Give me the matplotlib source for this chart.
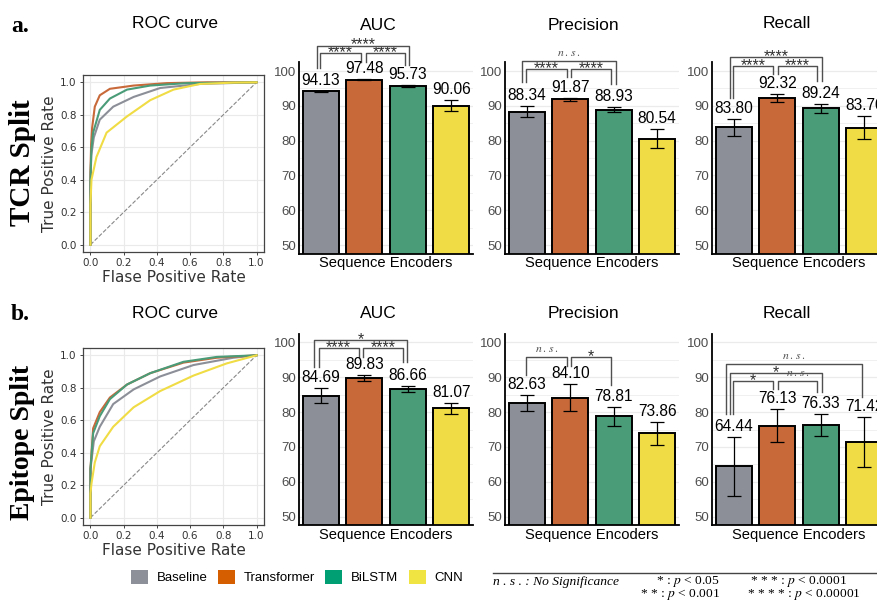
import numpy as np
import matplotlib.pyplot as plt
from matplotlib.patches import Patch
from matplotlib.lines import Line2D

plt.rcParams['mathtext.fontset'] = 'stix'
SANS = 'Liberation Sans'
SERIF = 'Liberation Serif'

# ---- data ----
models = ['Baseline', 'Transformer', 'BiLSTM', 'CNN']
bar_colors = ['#8C8F98', '#C8693A', '#4A9B78', '#F0DC44']
legend_colors = ['#8E9099', '#D55E00', '#009E73', '#F0E442']

# TCR split
tcr_auc = [94.13, 97.48, 95.73, 90.06]
tcr_auc_sd = [0.1, 0.2, 0.2, 1.5]
tcr_prec = [88.34, 91.87, 88.93, 80.54]
tcr_prec_sd = [1.5, 0.5, 0.7, 2.7]
tcr_rec = [83.80, 92.32, 89.24, 83.70]
tcr_rec_sd = [2.4, 1.2, 1.3, 3.3]

# Epitope split
epi_auc = [84.69, 89.83, 86.66, 81.07]
epi_auc_sd = [2.15, 0.9, 0.95, 1.6]
epi_prec = [82.63, 84.10, 78.81, 73.86]
epi_prec_sd = [2.25, 3.9, 2.7, 3.35]
epi_rec = [64.44, 76.13, 76.33, 71.42]
epi_rec_sd = [8.5, 4.7, 3.25, 7.3]

# ROC curves (fpr, tpr)
tcr_fpr_base = [0, 0, 0.005, 0.02, 0.056, 0.137, 0.26, 0.42, 0.66, 1.0]
tcr_tpr_base = [0, 0.4, 0.55, 0.66, 0.77, 0.85, 0.91, 0.965, 0.99, 1.0]
tcr_fpr_trans = [0, 0, 0.004, 0.01, 0.026, 0.056, 0.117, 0.26, 0.46, 0.7, 1.0]
tcr_tpr_trans = [0, 0.45, 0.62, 0.72, 0.85, 0.92, 0.96, 0.98, 0.995, 1.0, 1.0]
tcr_fpr_lstm = [0, 0, 0.005, 0.016, 0.056, 0.117, 0.22, 0.36, 0.58, 1.0]
tcr_tpr_lstm = [0, 0.4, 0.58, 0.69, 0.83, 0.90, 0.955, 0.98, 0.995, 1.0]
tcr_fpr_cnn = [0, 0, 0.006, 0.036, 0.097, 0.22, 0.36, 0.5, 0.66, 0.86, 1.0]
tcr_tpr_cnn = [0, 0.25, 0.40, 0.54, 0.69, 0.79, 0.89, 0.955, 0.99, 0.998, 1.0]

epi_fpr_base = [0, 0, 0.02, 0.056, 0.137, 0.26, 0.42, 0.62, 0.86, 1.0]
epi_tpr_base = [0, 0.3, 0.47, 0.56, 0.70, 0.79, 0.87, 0.94, 0.985, 1.0]
epi_fpr_trans = [0, 0, 0.016, 0.056, 0.117, 0.22, 0.36, 0.56, 0.76, 1.0]
epi_tpr_trans = [0, 0.3, 0.55, 0.65, 0.74, 0.82, 0.89, 0.955, 0.985, 1.0]
epi_fpr_lstm = [0, 0, 0.016, 0.056, 0.117, 0.22, 0.36, 0.56, 0.76, 1.0]
epi_tpr_lstm = [0, 0.3, 0.52, 0.625, 0.73, 0.82, 0.89, 0.96, 0.99, 1.0]
epi_fpr_cnn = [0, 0, 0.006, 0.026, 0.056, 0.137, 0.26, 0.42, 0.62, 0.82, 1.0]
epi_tpr_cnn = [0, 0.15, 0.21, 0.34, 0.44, 0.56, 0.68, 0.78, 0.875, 0.95, 1.0]

# significance brackets: (x1, x2, y, left tip, right tip, label)
tcr_auc_sig = [(-0.08, 2.04, 107.3, 100.9, 101.7, '****'),
               (-0.02, 0.92, 105.1, 100.9, 102.7, '****'),
               (1.03, 1.93, 105.1, 102.7, 101.7, '****')]
tcr_prec_sig = [(-0.11, 2.05, 102.95, 96.7, 96.3, 'n.s.'),
                (-0.02, 0.92, 100.6, 96.7, 98.4, '****'),
                (1.02, 1.94, 100.6, 98.3, 96.3, '****')]
tcr_rec_sig = [(-0.09, 2.04, 103.9, 92.3, 97.2, '****'),
               (-0.01, 0.91, 101.4, 92.3, 99.1, '****'),
               (1.02, 1.92, 101.4, 99.1, 97.2, '****')]
epi_auc_sig = [(-0.15, 1.98, 100.7, 93.0, 94.4, '*'),
               (-0.05, 0.87, 98.3, 93.0, 95.9, '****'),
               (0.97, 1.89, 98.3, 95.9, 94.4, '****')]
epi_prec_sig = [(-0.01, 0.92, 95.7, 90.6, 93.2, 'n.s.'),
                (1.02, 1.94, 95.7, 93.2, 87.75, '*')]
epi_rec_sig = [(-0.18, 2.94, 93.7, 79.4, 84.2, 'n.s.'),
               (-0.09, 2.02, 91.2, 79.4, 85.8, '*'),
               (-0.02, 0.91, 88.9, 79.4, 86.5, '*'),
               (1.02, 1.92, 88.9, 86.5, 85.8, 'n.s.')]

W, H = 877, 602
fig = plt.figure(figsize=(W / 100, H / 100), dpi=100)


def px_axes(left, top, right, bottom):
    return fig.add_axes([left / W, 1 - bottom / H, (right - left) / W, (bottom - top) / H])


def ftext(x, y, s, **kw):
    fig.text(x / W, 1 - y / H, s, **kw)


def roc_panel(ax, curves):
    ax.plot([0, 1], [0, 1], ls='--', color='#888888', lw=0.8, zorder=1)
    for (fpr, tpr), c in zip(curves, bar_colors):
        ax.plot(fpr, tpr, color=c, lw=1.5, zorder=2)
    ax.set_xlim(-0.045, 1.045)
    ax.set_ylim(-0.045, 1.045)
    ticks = [0, 0.2, 0.4, 0.6, 0.8, 1.0]
    ax.set_xticks(ticks)
    ax.set_yticks(ticks)
    ax.set_xticklabels(['%.1f' % t for t in ticks])
    ax.set_yticklabels(['%.1f' % t for t in ticks])
    ax.grid(color='#EAEAEA', lw=0.8)
    ax.set_axisbelow(True)
    for s in ax.spines.values():
        s.set_color('#444444')
        s.set_linewidth(0.9)
    ax.tick_params(length=2.5, width=0.7, color='#444444', labelsize=7.5, labelcolor='#333333', pad=2)
    ax.set_xlabel('Flase Positive Rate', fontsize=11, color='#333333', labelpad=1)
    ax.set_ylabel('True Positive Rate', fontsize=11, color='#333333', labelpad=2)


def bracket(ax, x1, x2, y, yl, yr, label):
    ax.plot([x1, x1, x2, x2], [yl, y, y, yr], color='#505050', lw=1.0, clip_on=False, zorder=4)
    if label == 'n.s.':
        ax.text((x1 + x2) / 2, y + 0.6, r'$n\,.\,s\,.$', ha='center', va='bottom', fontsize=8.5,
                color='#505050', clip_on=False)
    else:
        ax.text((x1 + x2) / 2, y - 1.1, label, ha='center', va='baseline', fontsize=11.5,
                family=SANS, color='#303030', clip_on=False)


def bar_panel(ax, vals, sds, sigs):
    x = np.arange(len(models))
    ax.bar(x, vals, width=0.82, color=bar_colors, edgecolor='black', linewidth=1.4, zorder=2)
    ax.errorbar(x, vals, yerr=sds, fmt='none', ecolor='black', elinewidth=0.9,
                capsize=4.9, capthick=0.9, zorder=3)
    for xi, v, s in zip(x, vals, sds):
        ax.text(xi, v + s + 1.7, '%.2f' % v, ha='center', va='baseline', fontsize=11.2,
                family=SANS, zorder=5, clip_on=False)
    for b in sigs:
        bracket(ax, *b)
    ax.set_xlim(-0.5, 3.5)
    ax.set_ylim(47.5, 102.5)
    ax.set_yticks(range(50, 101, 10))
    ax.set_yticks(range(55, 100, 10), minor=True)
    ax.grid(axis='y', which='major', color='#EBEBEB', lw=0.9)
    ax.grid(axis='y', which='minor', color='#F0F0F0', lw=0.7)
    ax.set_axisbelow(True)
    ax.spines['top'].set_visible(False)
    ax.spines['right'].set_visible(False)
    for s in ['left', 'bottom']:
        ax.spines[s].set_linewidth(1.3)
        ax.spines[s].set_color('black')
    ax.set_xticks([])
    ax.tick_params(axis='y', which='both', length=0, labelsize=9.5, labelcolor='#4D4D4D', pad=2)
    for lab in ax.get_yticklabels():
        lab.set_family(SANS)
    ax.set_xlabel('Sequence Encoders', fontsize=10.6, family=SANS, labelpad=2)


# ---- row a: TCR split ----
ax = px_axes(83, 75, 264, 252)
roc_panel(ax, [(tcr_fpr_base, tcr_tpr_base), (tcr_fpr_trans, tcr_tpr_trans),
               (tcr_fpr_lstm, tcr_tpr_lstm), (tcr_fpr_cnn, tcr_tpr_cnn)])
bar_panel(px_axes(299, 62.3, 473, 253.7), tcr_auc, tcr_auc_sd, tcr_auc_sig)
bar_panel(px_axes(505, 62.3, 679, 253.7), tcr_prec, tcr_prec_sd, tcr_prec_sig)
bar_panel(px_axes(712, 62.3, 886, 253.7), tcr_rec, tcr_rec_sd, tcr_rec_sig)

# ---- row b: Epitope split ----
ax = px_axes(83, 348, 264, 525)
roc_panel(ax, [(epi_fpr_base, epi_tpr_base), (epi_fpr_trans, epi_tpr_trans),
               (epi_fpr_lstm, epi_tpr_lstm), (epi_fpr_cnn, epi_tpr_cnn)])
bar_panel(px_axes(299, 333.6, 473, 525.4), epi_auc, epi_auc_sd, epi_auc_sig)
bar_panel(px_axes(505, 333.6, 679, 525.4), epi_prec, epi_prec_sd, epi_prec_sig)
bar_panel(px_axes(712, 333.6, 886, 525.4), epi_rec, epi_rec_sd, epi_rec_sig)

# titles
for y in (24, 313):
    ftext(175, y, 'ROC curve', ha='center', va='center', fontsize=12.5, family=SANS)
    ftext(378, y + 1, 'AUC', ha='center', va='center', fontsize=12.5, family=SANS)
    ftext(583, y + 1, 'Precision', ha='center', va='center', fontsize=12.5, family=SANS)
    ftext(787, y, 'Recall', ha='center', va='center', fontsize=12.5, family=SANS)

ftext(11, 27, 'a.', ha='left', va='center', fontsize=17, family=SERIF, weight='bold')
ftext(11, 314, 'b.', ha='left', va='center', fontsize=17, family=SERIF, weight='bold')
ftext(23, 163, 'TCR Split', ha='center', va='center', rotation=90, fontsize=21,
      family=SERIF, weight='bold')
ftext(23, 442, 'Epitope Split', ha='center', va='center', rotation=90, fontsize=20,
      family=SERIF, weight='bold')

# model legend
handles = [Patch(facecolor=c, edgecolor='none') for c in legend_colors]
fig.legend(handles, models, loc='center', bbox_to_anchor=(297 / W, 1 - 577 / H), ncol=4,
           frameon=False, handlelength=1.29, handleheight=1.29, handletextpad=0.65,
           columnspacing=0.8, borderpad=0, prop={'family': SANS, 'size': 9.5})

# significance key
fig.add_artist(Line2D([493 / W, 1.0], [1 - 573 / H] * 2, color='#444444', lw=1.0))
key = dict(va='center', fontsize=9.7, family=SERIF)
ftext(493, 581.5, 'n . s . : No Significance', ha='left', style='italic', **key)
ftext(720, 581.5, '* : $p$ < 0.05', ha='right', **key)
ftext(720, 595, '* * : $p$ < 0.001', ha='right', **key)
ftext(750, 581.5, '* * * : $p$ < 0.0001', ha='left', **key)
ftext(747, 595, '* * * * : $p$ < 0.00001', ha='left', **key)

fig.savefig('out.png', dpi=100)
